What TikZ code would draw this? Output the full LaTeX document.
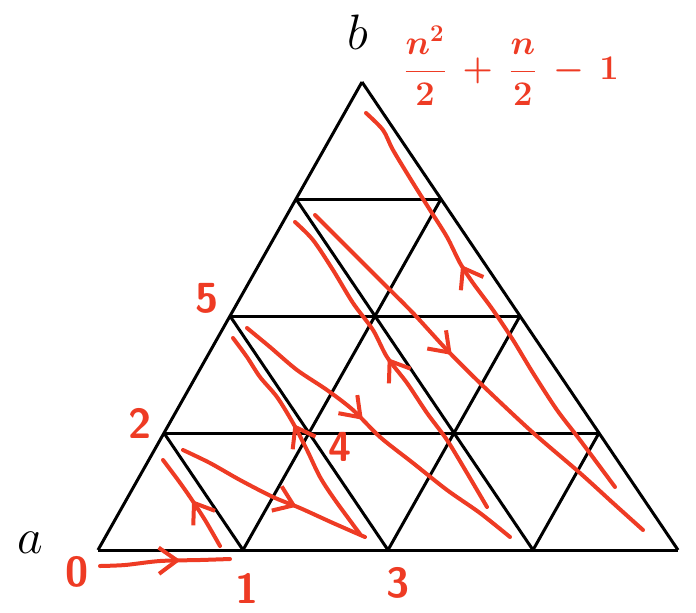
\documentclass[tikz,border=0pt]{standalone}
\usepackage{amsmath}
\usepackage{tikz}
\usetikzlibrary{arrows.meta,decorations.markings}
\definecolor{penred}{HTML}{EE3B24}
\definecolor{ink}   {HTML}{000000}
\tikzset{
  gridline/.style ={draw=ink, line width=1.5pt},
  penline/.style  ={draw=penred, line width=2pt, line cap=round, line join=round},
  midarr/.style   ={decoration={markings, mark=at position #1 with
                     {\arrow{Straight Barb[length=3.2mm,width=4.6mm,line width=2pt]}}},
                    postaction={decorate}},
  cornerlbl/.style={text=ink, font=\fontsize{34}{34}\selectfont},
  steplbl/.style  ={text=penred, font=\fontsize{21}{21}\selectfont\sffamily\bfseries},
}

\begin{document}
\begin{tikzpicture}[x=0.5pt,y=-0.5pt]
    \useasboundingbox (0,0) rectangle (696,612);

    % lattice points
    \foreach \i in {0,...,4}
      \foreach \j in {0,...,4}{
        \pgfmathtruncatemacro{\s}{\i+\j}
        \ifnum\s<5
          \coordinate (v\i\j) at ({98+145*\i+66*\j},{550-117*\j});
        \fi
      }

    % triangle grid
    \foreach \k [evaluate=\k as \r using int(4-\k)] in {0,...,3}{
      \draw[gridline] (v0\k) -- (v\r\k);
      \draw[gridline] (v\k0) -- (v\k\r);
    }
    \foreach \k in {1,...,4}
      \draw[gridline] (v\k0) -- (v0\k);

    % corner labels
    \node[cornerlbl] (la) at (30,543) {$a$};
    \node[cornerlbl,font=\fontsize{28}{28}\selectfont] (lb) at (358,32) {$b$};

    % step numbers
    \node[steplbl] (l0) at (77,572)  {0};
    \node[steplbl] (l1) at (247,588) {1};
    \node[steplbl] (l2) at (140,423) {2};
    \node[steplbl] (l3) at (398,583) {3};
    \node[steplbl] (l4) at (340,447) {4};
    \node[steplbl] (l5) at (207,298) {5};

    % count
    \node[text=penred,font=\fontsize{18}{18}\selectfont\boldmath] (cnt) at (511,66)
      {$\dfrac{n^2}{2}\,+\,\dfrac{n}{2}\,-\,1$};

    % path through the cells
    \draw[penline,midarr=0.62] plot[smooth] coordinates
      {(100,566) (125,565) (160,561) (200,560) (230,559)};
    \draw[penline,midarr=0.52] plot[smooth] coordinates
      {(220,546) (205,520) (190,497) (178,480) (163,460)};
    \draw[penline,midarr=0.63] plot[smooth] coordinates
      {(183,450) (210,463) (240,480) (273,497) (300,508) (333,523) (365,537)};
    \draw[penline,midarr=0.55] plot[smooth] coordinates
      {(360,534) (335,500) (320,477) (307,450) (293,423) (277,397) (260,377) (247,357) (233,338)};
    \draw[penline,midarr=0.44] plot[smooth] coordinates
      {(247,328) (270,347) (297,370) (327,390) (353,410) (380,437) (413,463) (447,490) (480,513) (510,537)};
    \draw[penline,midarr=0.52] plot[smooth] coordinates
      {(487,507) (467,473) (447,440) (427,413) (407,383) (387,357) (373,330) (353,303) (333,270) (313,240) (295,222)};
    \draw[penline,midarr=0.43] plot[smooth] coordinates
      {(315,215) (347,247) (380,280) (413,313) (447,350) (480,383) (530,430) (580,473) (613,503) (643,530)};
    \draw[penline,midarr=0.6] plot[smooth] coordinates
      {(615,487) (580,440) (557,410) (533,373) (513,340) (493,310) (473,283) (460,263) (447,237) (430,210) (413,183) (393,150) (383,130) (366,113)};
\end{tikzpicture}
\end{document}
